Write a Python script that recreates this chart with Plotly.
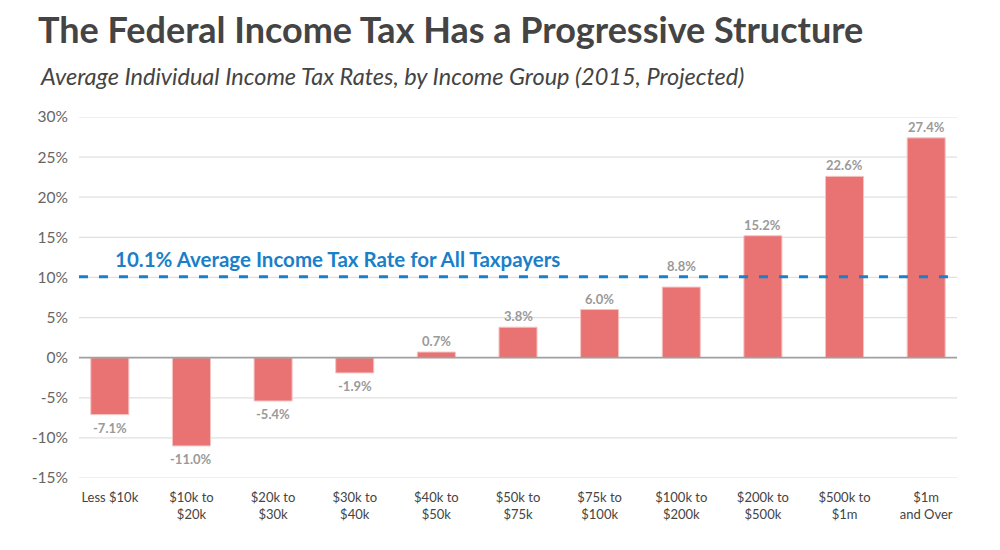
import plotly.graph_objects as go

groups = ["Less $10k", "$10k to<br>$20k", "$20k to<br>$30k", "$30k to<br>$40k", "$40k to<br>$50k",
          "$50k to<br>$75k", "$75k to<br>$100k", "$100k to<br>$200k", "$200k to<br>$500k",
          "$500k to<br>$1m", "$1m<br>and Over"]
rates = [-7.1, -11.0, -5.4, -1.9, 0.7, 3.8, 6.0, 8.8, 15.2, 22.6, 27.4]
avg_rate = 10.1
y_ticks = [-15, -10, -5, 0, 5, 10, 15, 20, 25, 30]

# gridlines are a bit shorter than the category band, like the original
g0, g1 = 0.0111, 0.9889

fig = go.Figure()
fig.add_trace(go.Bar(
    x=groups, y=rates,
    marker=dict(color="#E87372", line=dict(color="#f6c4c4", width=1)),
    width=0.466,
))

# value labels; the one just under the average line is lifted above it
for g, v in zip(groups, rates):
    shift = 11 if v >= 0 else -13
    if 0 < avg_rate - v < 2:
        shift = 21
    fig.add_annotation(x=g, y=v, yshift=shift, text=f"{v:.1f}%", showarrow=False,
                       xanchor="center", yanchor="middle",
                       font=dict(family="Lato", size=13, color="#9a9a9a", weight="bold"))

for t in y_ticks:
    if t == 0:
        continue
    fig.add_shape(type="line", xref="paper", yref="y", x0=g0, x1=g1, y0=t, y1=t,
                  line=dict(color="#e0e0e0", width=1.2), layer="below")
fig.add_shape(type="line", xref="paper", yref="y", x0=g0, x1=g1, y0=0, y1=0,
              line=dict(color="#a0a0a0", width=1.8), layer="above")

# average line across the whole plot
fig.add_shape(type="line", xref="paper", yref="y", x0=g0, x1=g1, y0=avg_rate, y1=avg_rate,
              line=dict(color="#1a7fc9", width=3, dash="9px,11px"), layer="above")
fig.add_annotation(xref="paper", yref="y", x=0.049, y=avg_rate, yshift=18,
                   xanchor="left", yanchor="middle", showarrow=False,
                   text=f"<b>{avg_rate}% Average Income Tax Rate for All Taxpayers</b>",
                   font=dict(family="Lato", size=20.5, color="#1a7fc9"))
fig.add_annotation(xref="paper", yref="paper", x=-0.0345, y=1.1136, xanchor="left", yanchor="middle",
                   showarrow=False,
                   text="<i>Average Individual Income Tax Rates, by Income Group (2015, Projected)</i>",
                   font=dict(family="Lato", size=23.5, color="#444"))

fig.update_layout(
    width=992, height=542,
    margin=dict(l=61, r=33, t=109, b=72),
    paper_bgcolor="white", plot_bgcolor="white",
    showlegend=False,
    font=dict(family="Lato", color="#555"),
    title=dict(text="<b>The Federal Income Tax Has a Progressive Structure</b>",
               x=0.0302, xanchor="left", y=0.9594, yanchor="middle",
               font=dict(family="Lato", size=36, color="#444")),
)
fig.update_yaxes(range=[-15, 30], tickvals=y_ticks, ticktext=[f"{t}%" for t in y_ticks],
                 showgrid=False, zeroline=False,
                 tickfont=dict(family="Lato", size=15.5, color="#666"), ticks="")
fig.update_xaxes(tickfont=dict(family="Lato", size=13, color="#444"), showline=False,
                 ticks="outside", ticklen=7, tickcolor="rgba(0,0,0,0)")

fig.write_html("out.html")
